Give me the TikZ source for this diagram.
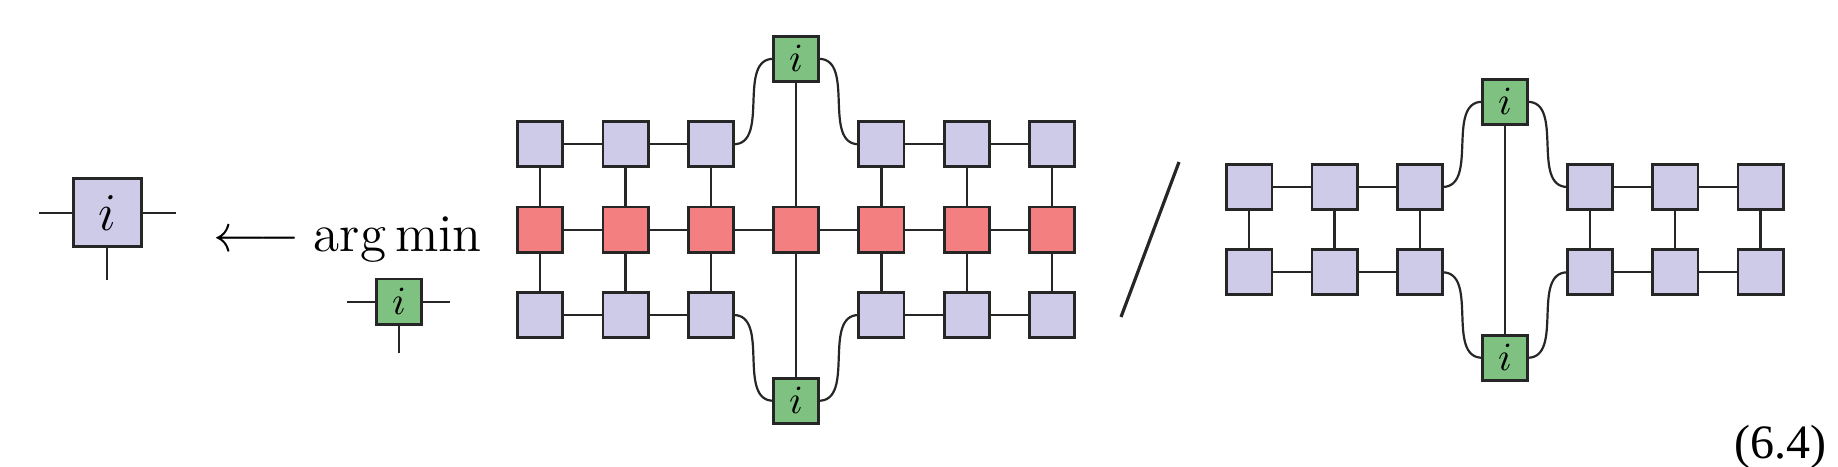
\RequirePackage{fix-cm}
\documentclass[tikz,border=0pt]{standalone}
\usepackage{fontspec}
\newfontfamily\timesf{Liberation Serif}
\definecolor{lav}{RGB}{205,203,231}
\definecolor{rd}{RGB}{244,127,129}
\definecolor{gr}{RGB}{126,193,128}
\definecolor{ink}{RGB}{38,38,38}
\begin{document}
\begin{tikzpicture}[x=0.25pt,y=-0.25pt,
  tbox/.style={draw=ink, line width=0.7pt, minimum size=11.3pt, inner sep=0pt, outer sep=0pt,
               font=\fontsize{10}{12}\selectfont},
  lavbox/.style={tbox, fill=lav},
  redbox/.style={tbox, fill=rd},
  grnbox/.style={tbox, fill=gr},
  wire/.style={draw=ink, line width=0.55pt}]
\useasboundingbox (0,0) rectangle (1838,467);

% left single tensor
\node[lavbox, minimum size=17pt, font=\fontsize{13.3}{16}\selectfont] (T) at (107.2,212.7) {$i$};
\coordinate (Tl) at (39,212.7);
\coordinate (Tr) at (175.7,212.7);
\coordinate (Tb) at (107.2,280.3);
\draw[wire] (Tl) -- (T.west) (T.east) -- (Tr) (T.south) -- (Tb);

% arrow and arg min
\node[anchor=base, inner sep=0pt, font=\fontsize{13.3}{16}\selectfont] (arr) at (256.7,251.7) {$\longleftarrow$};
\node[anchor=base west, inner sep=0pt, font=\fontsize{13.3}{16}\selectfont] (am) at (313,251.7) {$\arg\min$};

% green subscript tensor
\node[grnbox] (G) at (399,301.7) {$i$};
\coordinate (Gl) at (347.3,301.7);
\coordinate (Gr) at (450,301.7);
\coordinate (Gb) at (399,353.3);
\draw[wire] (Gl) -- (G.west) (G.east) -- (Gr) (G.south) -- (Gb);

% numerator network
\foreach \c/\x in {1/540.2,2/625.5,3/710.8,5/881.4,6/966.7,7/1052} {
  \node[lavbox] (a\c) at (\x,144.3) {};
  \node[lavbox] (c\c) at (\x,315) {};
}
\foreach \c/\x in {1/540.2,2/625.5,3/710.8,4/796.1,5/881.4,6/966.7,7/1052}
  \node[redbox] (b\c) at (\x,229.7) {};
\node[grnbox] (gt) at (796.1,58.8) {$i$};
\node[grnbox] (gb) at (796.1,400.8) {$i$};

\foreach \c in {1,2,3,5,6,7} \draw[wire] (a\c) -- (b\c) -- (c\c);
\foreach \i/\j in {1/2,2/3,5/6,6/7} \draw[wire] (a\i) -- (a\j) (c\i) -- (c\j);
\foreach \i/\j in {1/2,2/3,3/4,4/5,5/6,6/7} \draw[wire] (b\i) -- (b\j);
\draw[wire] (gt) -- (b4) -- (gb);
\draw[wire] (a3.east) to[out=0,in=180] (gt.west);
\draw[wire] (gt.east) to[out=0,in=180] (a5.west);
\draw[wire] (c3.east) to[out=0,in=180] (gb.west);
\draw[wire] (gb.east) to[out=0,in=180] (c5.west);

% slash
\coordinate (s1) at (1179,162);
\coordinate (s2) at (1121,317);
\draw[draw=ink, line width=0.8pt] (s1) -- (s2);

% denominator network
\foreach \c/\x in {1/1249.3,2/1334.5,3/1419.7,5/1590.1,6/1675.3,7/1760.5} {
  \node[lavbox] (d\c) at (\x,187) {};
  \node[lavbox] (e\c) at (\x,272.3) {};
}
\node[grnbox] (ht) at (1504.9,101.8) {$i$};
\node[grnbox] (hb) at (1504.9,357.8) {$i$};
\foreach \c in {1,2,3,5,6,7} \draw[wire] (d\c) -- (e\c);
\foreach \i/\j in {1/2,2/3,5/6,6/7} \draw[wire] (d\i) -- (d\j) (e\i) -- (e\j);
\draw[wire] (ht) -- (hb);
\draw[wire] (d3.east) to[out=0,in=180] (ht.west);
\draw[wire] (ht.east) to[out=0,in=180] (d5.west);
\draw[wire] (e3.east) to[out=0,in=180] (hb.west);
\draw[wire] (hb.east) to[out=0,in=180] (e5.west);

% equation number
\node[anchor=base east, inner sep=0pt, font=\timesf\fontsize{12}{14}\selectfont] (eq) at (1827,458.3) {(6.4)};
\end{tikzpicture}
\end{document}
